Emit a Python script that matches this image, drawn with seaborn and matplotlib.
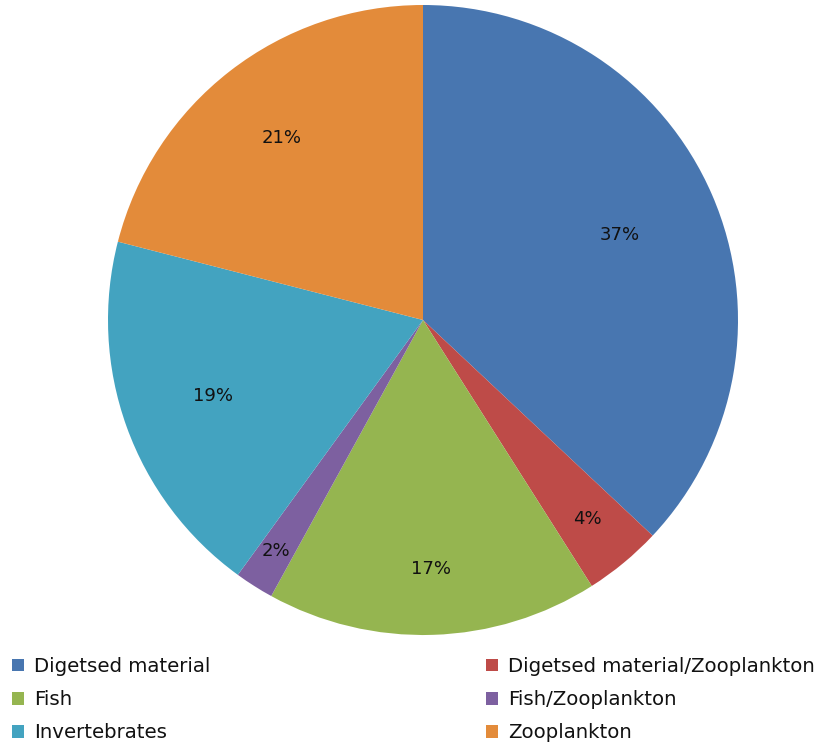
import matplotlib
matplotlib.use("Agg")
import matplotlib.pyplot as plt
import seaborn as sns

# diet composition (share of items)
categories = ['Digetsed material', 'Digetsed material/Zooplankton', 'Fish',
              'Fish/Zooplankton', 'Invertebrates', 'Zooplankton']
shares = [37, 4, 17, 2, 19, 21]
colors = ['#4876B0', '#BE4B48', '#95B550', '#7D60A0', '#43A3C0', '#E38B3A']
# how far out each percentage label sits (fraction of radius)
label_dist = [0.68, 0.82, 0.79, 0.87, 0.71, 0.73]

sns.set_style('white')
plt.rcParams['font.family'] = ['DejaVu Sans']

fig = plt.figure(figsize=(8.23, 7.48), dpi=100)
ax = fig.add_axes([108 / 823, 113 / 748, 630 / 823, 630 / 748])

wedges, texts, autotexts = ax.pie(
    shares, colors=colors, startangle=90, counterclock=False,
    radius=1, autopct='%1.0f%%', pctdistance=0.7,
    wedgeprops={'linewidth': 0}, textprops={'fontsize': 13, 'color': '#111111'})
for t, d in zip(autotexts, label_dist):
    x, y = t.get_position()
    t.set_position((x * d / 0.7, y * d / 0.7))

ax.set_xlim(-1, 1)
ax.set_ylim(-1, 1)
ax.set_aspect('equal')
ax.axis('off')

# legend order: row-wise in two columns
order = [0, 2, 4, 1, 3, 5]
leg = fig.legend([wedges[i] for i in order], [categories[i] for i in order],
                 ncol=2, loc='upper left', bbox_to_anchor=(12 / 823, 91 / 748),
                 borderpad=0, borderaxespad=0,
                 frameon=False, fontsize=14.2, handlelength=0.6, handleheight=0.6,
                 handletextpad=0.5, columnspacing=14.0, labelspacing=0.72)
for txt in leg.get_texts():
    txt.set_color('#111111')

fig.savefig('out.png', dpi=100)
